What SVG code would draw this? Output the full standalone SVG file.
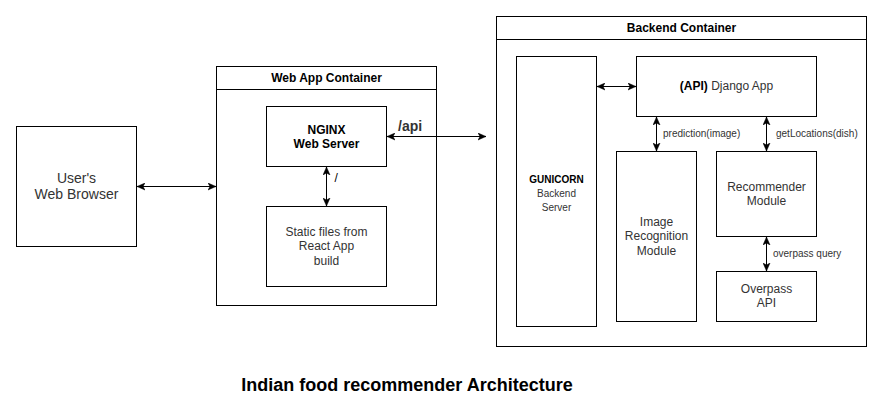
<svg xmlns="http://www.w3.org/2000/svg" width="883" height="414" viewBox="0 0 883 414">
<defs>
<style>
.box{fill:#fff;stroke:#000;stroke-width:1}
.t{font-family:"Liberation Sans",Arial,sans-serif;font-size:12px;fill:#333;text-anchor:middle}
.b{font-weight:bold;fill:#000}
.lbl{font-family:"Liberation Sans",Arial,sans-serif;font-size:10px;fill:#333}
.c{fill:none;stroke:#000;stroke-width:1;marker-start:url(#ah);marker-end:url(#ah)}
</style>
<marker id="ah" markerUnits="userSpaceOnUse" markerWidth="9" markerHeight="8" refX="8" refY="4" orient="auto-start-reverse">
<path d="M0,0.5 L8,4 L0,7.5 L2,4 Z" fill="#000" stroke="#000" stroke-width="0.5"/>
</marker>
</defs>
<rect width="883" height="414" fill="#fff"/>

<g id="browser">
<rect class="box" x="16.5" y="126.5" width="120" height="120"/>
<text class="t" style="font-size:14px" x="76.5" y="182.6">User's</text>
<text class="t" style="font-size:14px" x="76.5" y="199.4">Web Browser</text>
</g>

<g id="webapp">
<rect class="box" x="216.5" y="66.5" width="220" height="239"/>
<line x1="216.5" y1="89.5" x2="436.5" y2="89.5" stroke="#000"/>
<text class="t b" x="326.5" y="82">Web App Container</text>
</g>

<g id="nginx">
<rect class="box" x="266.5" y="106.5" width="120" height="60"/>
<text class="t b" x="326.5" y="134">NGINX</text>
<text class="t b" x="326.5" y="148.4">Web Server</text>
</g>

<g id="static">
<rect class="box" x="266.5" y="206.5" width="120" height="80"/>
<text class="t" x="326.5" y="236">Static files from</text>
<text class="t" x="326.5" y="250.4">React App</text>
<text class="t" x="326.5" y="264.8">build</text>
</g>

<g id="backend">
<rect class="box" x="496.5" y="16.5" width="370" height="330"/>
<line x1="496.5" y1="39.5" x2="866.5" y2="39.5" stroke="#000"/>
<text class="t b" x="681.5" y="32">Backend Container</text>
</g>

<g id="gunicorn">
<rect class="box" x="516.5" y="56.5" width="80" height="270"/>
<text class="t b" style="font-size:10px" x="556.5" y="182.6">GUNICORN</text>
<text class="t" style="font-size:10px" x="556.5" y="196.6">Backend</text>
<text class="t" style="font-size:10px" x="556.5" y="210.6">Server</text>
</g>

<g id="django">
<rect class="box" x="636.5" y="56.5" width="180" height="60"/>
<text class="t" x="726.5" y="90.3"><tspan class="b" style="fill:#000">(API)</tspan> Django App</text>
</g>

<g id="imagerec">
<rect class="box" x="616.5" y="151.5" width="80" height="170"/>
<text class="t" x="656.5" y="226">Image</text>
<text class="t" x="656.5" y="240.4">Recognition</text>
<text class="t" x="656.5" y="254.8">Module</text>
</g>

<g id="recommender">
<rect class="box" x="716.5" y="151.5" width="100" height="85"/>
<text class="t" x="766.5" y="190.6">Recommender</text>
<text class="t" x="766.5" y="205">Module</text>
</g>

<g id="overpass">
<rect class="box" x="716.5" y="271.5" width="100" height="50"/>
<text class="t" x="766.5" y="293">Overpass</text>
<text class="t" x="766.5" y="307.4">API</text>
</g>

<g id="connectors">
<line class="c" x1="137" y1="186.5" x2="216" y2="186.5"/>
<line class="c" x1="387" y1="136.5" x2="486" y2="136.5"/>
<line class="c" x1="326.5" y1="167" x2="326.5" y2="206"/>
<line class="c" x1="597" y1="86.5" x2="636" y2="86.5"/>
<line class="c" x1="656.5" y1="117" x2="656.5" y2="151"/>
<line class="c" x1="766.5" y1="117" x2="766.5" y2="151"/>
<line class="c" x1="766.5" y1="237" x2="766.5" y2="271"/>
<text class="lbl b" style="font-size:14px" x="398" y="131">/api</text>
<text class="lbl" style="font-size:12px;fill:#000" x="334.5" y="182">/</text>
<text class="lbl" x="663" y="136.5">prediction(image)</text>
<text class="lbl" x="776" y="136.5">getLocations(dish)</text>
<text class="lbl" x="773" y="257">overpass query</text>
</g>

<text class="t b" style="font-size:18px" x="407" y="391">Indian food recommender Architecture</text>
</svg>
